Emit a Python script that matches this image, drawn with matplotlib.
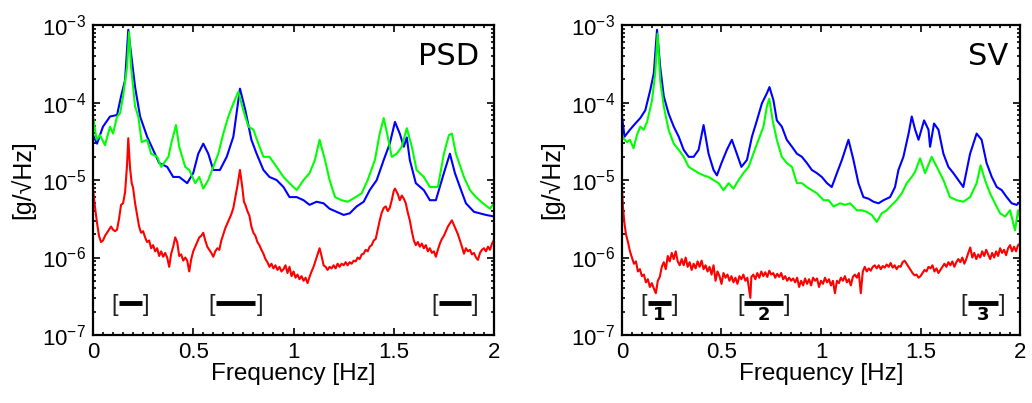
import numpy as np
import matplotlib
matplotlib.use("Agg")
import matplotlib.pyplot as plt
from matplotlib.ticker import MultipleLocator, LogLocator, NullFormatter

plt.rcParams["font.family"] = ["Liberation Sans", "DejaVu Sans"]
plt.rcParams["mathtext.fontset"] = "custom"
plt.rcParams["mathtext.rm"] = "Liberation Sans"
plt.rcParams["mathtext.it"] = "Liberation Sans:italic"
plt.rcParams["mathtext.bf"] = "Liberation Sans:bold"

# ====== data: (frequency Hz, log10 amplitude g/sqrt(Hz)) ======
psd_blue = [(0, -4.42), (0.02, -4.53), (0.05, -4.31), (0.085, -4.18), (0.12, -4.16), (0.14, -3.92),
            (0.16, -3.71), (0.176, -3.06), (0.19, -3.37), (0.21, -3.80), (0.235, -4.18), (0.27, -4.44),
            (0.30, -4.61), (0.33, -4.78), (0.37, -4.83), (0.40, -4.96), (0.43, -4.96), (0.47, -5.04),
            (0.50, -4.91), (0.525, -4.66), (0.55, -4.53), (0.575, -4.66), (0.60, -4.87), (0.633, -4.87),
            (0.667, -4.70), (0.70, -4.44), (0.733, -3.82), (0.76, -4.10), (0.79, -4.48), (0.816, -4.66),
            (0.85, -4.87), (0.88, -4.96), (0.916, -5.00), (0.95, -5.09), (0.98, -5.22), (1.016, -5.22),
            (1.05, -5.26), (1.08, -5.32), (1.115, -5.28), (1.15, -5.30), (1.18, -5.37), (1.215, -5.41),
            (1.25, -5.45), (1.28, -5.43), (1.315, -5.34), (1.35, -5.28), (1.38, -5.13), (1.415, -5.00),
            (1.45, -4.74), (1.48, -4.53), (1.506, -4.25), (1.53, -4.40), (1.55, -4.57), (1.565, -4.45),
            (1.58, -4.74), (1.61, -5.04), (1.65, -5.13), (1.68, -5.26), (1.71, -5.26), (1.75, -4.91),
            (1.78, -4.66), (1.805, -4.91), (1.83, -5.09), (1.86, -5.30), (1.90, -5.41), (1.93, -5.43),
            (1.96, -5.45), (2.0, -5.47)]

psd_green = [(0, -4.18), (0.018, -4.48), (0.035, -4.42), (0.06, -4.55), (0.085, -4.31), (0.10, -4.40),
             (0.12, -4.18), (0.135, -4.14), (0.15, -3.92), (0.17, -3.54), (0.18, -3.09), (0.19, -3.54),
             (0.21, -4.05), (0.226, -4.18), (0.243, -4.51), (0.27, -4.48), (0.29, -4.66), (0.32, -4.70),
             (0.34, -4.83), (0.376, -4.70), (0.39, -4.53), (0.414, -4.29), (0.43, -4.57), (0.46, -4.83),
             (0.48, -4.87), (0.51, -5.04), (0.53, -4.96), (0.55, -5.11), (0.575, -5.00), (0.60, -4.83),
             (0.625, -4.66), (0.65, -4.40), (0.675, -4.18), (0.70, -4.01), (0.725, -3.86), (0.75, -4.10),
             (0.775, -4.31), (0.80, -4.35), (0.825, -4.53), (0.85, -4.70), (0.88, -4.70), (0.916, -4.83),
             (0.95, -4.96), (0.98, -5.04), (1.016, -5.13), (1.05, -5.00), (1.08, -4.91), (1.107, -4.74),
             (1.13, -4.48), (1.157, -4.74), (1.18, -5.00), (1.207, -5.22), (1.24, -5.26), (1.27, -5.28),
             (1.31, -5.22), (1.34, -5.17), (1.37, -5.00), (1.406, -4.74), (1.43, -4.40), (1.45, -4.20),
             (1.47, -4.44), (1.49, -4.70), (1.515, -4.66), (1.54, -4.57), (1.565, -4.33), (1.59, -4.57),
             (1.614, -4.87), (1.65, -4.96), (1.68, -5.09), (1.72, -5.09), (1.75, -4.66), (1.775, -4.42),
             (1.79, -4.40), (1.81, -4.66), (1.85, -4.96), (1.88, -5.13), (1.91, -5.22), (1.945, -5.30),
             (1.98, -5.37), (2.0, -5.30)]

psd_red = [(0, -5.11), (0.01, -5.35), (0.02, -5.55), (0.03, -5.72), (0.04, -5.80), (0.05, -5.78),
           (0.06, -5.72), (0.07, -5.68), (0.08, -5.64), (0.09, -5.60), (0.10, -5.64), (0.11, -5.66),
           (0.12, -5.64), (0.13, -5.50), (0.14, -5.32), (0.15, -5.30), (0.16, -5.16), (0.17, -4.80),
           (0.176, -4.46), (0.185, -4.85), (0.193, -5.04), (0.20, -5.10), (0.21, -5.30), (0.22, -5.45),
           (0.23, -5.60), (0.24, -5.68), (0.25, -5.66), (0.26, -5.74), (0.27, -5.80), (0.28, -5.78),
           (0.29, -5.88), (0.30, -5.84), (0.31, -5.92), (0.32, -5.88), (0.33, -5.98), (0.34, -5.92),
           (0.35, -5.99), (0.36, -5.94), (0.37, -6.00), (0.38, -6.12), (0.39, -5.95), (0.40, -5.86),
           (0.41, -5.74), (0.42, -5.80), (0.43, -5.98), (0.44, -5.96), (0.45, -6.04), (0.46, -6.00),
           (0.47, -6.04), (0.48, -6.18), (0.49, -6.02), (0.50, -5.92), (0.51, -5.86), (0.52, -5.80),
           (0.53, -5.74), (0.54, -5.72), (0.55, -5.68), (0.56, -5.78), (0.57, -5.86), (0.58, -5.90),
           (0.59, -5.94), (0.60, -5.99), (0.61, -5.92), (0.62, -5.88), (0.63, -5.90), (0.64, -5.78),
           (0.65, -5.70), (0.66, -5.62), (0.67, -5.56), (0.68, -5.50), (0.69, -5.44), (0.70, -5.36),
           (0.71, -5.22), (0.72, -5.08), (0.733, -4.87), (0.745, -5.10), (0.753, -5.28), (0.76, -5.32),
           (0.77, -5.40), (0.78, -5.46), (0.79, -5.60), (0.80, -5.68), (0.81, -5.72), (0.82, -5.80),
           (0.83, -5.84), (0.84, -5.90), (0.85, -5.95), (0.86, -6.02), (0.87, -6.06), (0.88, -6.12),
           (0.89, -6.08), (0.90, -6.14), (0.91, -6.10), (0.92, -6.16), (0.93, -6.12), (0.94, -6.18),
           (0.95, -6.15), (0.96, -6.10), (0.97, -6.20), (0.98, -6.12), (0.99, -6.24), (1.00, -6.18),
           (1.01, -6.26), (1.02, -6.22), (1.03, -6.28), (1.04, -6.24), (1.05, -6.30), (1.06, -6.26),
           (1.07, -6.33), (1.08, -6.25), (1.09, -6.18), (1.10, -6.12), (1.11, -6.04), (1.12, -5.96),
           (1.13, -5.88), (1.14, -5.98), (1.15, -6.10), (1.16, -6.12), (1.17, -6.16), (1.18, -6.12),
           (1.19, -6.14), (1.20, -6.10), (1.21, -6.14), (1.22, -6.08), (1.23, -6.12), (1.24, -6.08),
           (1.25, -6.10), (1.26, -6.06), (1.27, -6.10), (1.28, -6.06), (1.29, -6.08), (1.30, -6.04),
           (1.31, -6.05), (1.32, -6.00), (1.33, -6.02), (1.34, -5.96), (1.35, -5.95), (1.36, -5.90),
           (1.37, -5.92), (1.38, -5.86), (1.39, -5.84), (1.40, -5.78), (1.41, -5.76), (1.42, -5.64),
           (1.43, -5.52), (1.44, -5.42), (1.45, -5.36), (1.46, -5.34), (1.47, -5.40), (1.48, -5.36),
           (1.49, -5.26), (1.50, -5.14), (1.506, -5.11), (1.52, -5.18), (1.53, -5.26), (1.54, -5.20),
           (1.55, -5.24), (1.56, -5.30), (1.57, -5.42), (1.58, -5.52), (1.59, -5.66), (1.60, -5.78),
           (1.61, -5.84), (1.62, -5.80), (1.63, -5.86), (1.64, -5.82), (1.65, -5.88), (1.66, -5.84),
           (1.67, -5.92), (1.68, -5.88), (1.69, -5.94), (1.70, -5.92), (1.71, -5.99), (1.72, -5.90),
           (1.73, -5.82), (1.74, -5.76), (1.75, -5.72), (1.76, -5.66), (1.77, -5.60), (1.78, -5.56),
           (1.79, -5.52), (1.80, -5.58), (1.81, -5.64), (1.82, -5.70), (1.83, -5.78), (1.84, -5.86),
           (1.85, -5.95), (1.86, -5.88), (1.87, -5.92), (1.88, -5.90), (1.89, -5.96), (1.90, -5.94),
           (1.91, -6.00), (1.92, -6.03), (1.93, -5.94), (1.94, -5.90), (1.95, -5.88), (1.96, -5.92),
           (1.97, -5.86), (1.98, -5.90), (1.99, -5.82), (2.00, -5.77)]

sv_blue = [(0, -4.18), (0.013, -4.44), (0.04, -4.35), (0.067, -4.27), (0.092, -4.20), (0.117, -4.10),
           (0.142, -3.84), (0.16, -3.62), (0.176, -3.06), (0.192, -3.54), (0.21, -3.92), (0.234, -4.14),
           (0.26, -4.31), (0.285, -4.44), (0.31, -4.61), (0.335, -4.70), (0.36, -4.70), (0.385, -4.61),
           (0.41, -4.29), (0.435, -4.66), (0.46, -4.87), (0.477, -4.94), (0.50, -4.78), (0.527, -4.61),
           (0.552, -4.48), (0.577, -4.66), (0.60, -4.83), (0.628, -4.74), (0.653, -4.44), (0.678, -4.23),
           (0.703, -4.01), (0.728, -3.88), (0.741, -3.80), (0.761, -3.97), (0.778, -4.23), (0.803, -4.31),
           (0.828, -4.48), (0.854, -4.57), (0.879, -4.66), (0.904, -4.70), (0.929, -4.78), (0.954, -4.87),
           (0.979, -4.91), (1.004, -4.96), (1.03, -5.04), (1.054, -5.09), (1.08, -4.91), (1.105, -4.74),
           (1.138, -4.48), (1.163, -4.74), (1.188, -5.04), (1.213, -5.22), (1.238, -5.24), (1.264, -5.28),
           (1.289, -5.30), (1.314, -5.26), (1.347, -5.22), (1.372, -5.09), (1.389, -4.87), (1.414, -4.70),
           (1.44, -4.40), (1.456, -4.18), (1.473, -4.35), (1.49, -4.48), (1.518, -4.23), (1.54, -4.35),
           (1.548, -4.57), (1.568, -4.27), (1.59, -4.35), (1.615, -4.66), (1.64, -4.83), (1.665, -4.91),
           (1.69, -5.00), (1.715, -5.09), (1.749, -4.66), (1.782, -4.40), (1.807, -4.48), (1.832, -4.78),
           (1.858, -4.96), (1.883, -5.09), (1.908, -5.13), (1.933, -5.22), (1.958, -5.30), (1.983, -5.32),
           (2.0, -5.28)]

sv_green = [(0, -4.44), (0.025, -4.51), (0.04, -4.48), (0.058, -4.59), (0.075, -4.42), (0.092, -4.31),
            (0.109, -4.35), (0.126, -4.25), (0.151, -3.97), (0.167, -3.62), (0.179, -3.11), (0.192, -3.71),
            (0.21, -4.05), (0.234, -4.35), (0.26, -4.53), (0.285, -4.61), (0.31, -4.70), (0.335, -4.83),
            (0.36, -4.87), (0.385, -4.91), (0.41, -4.94), (0.435, -4.96), (0.46, -5.00), (0.485, -5.04),
            (0.51, -5.13), (0.536, -5.04), (0.56, -5.11), (0.586, -5.00), (0.61, -4.91), (0.636, -4.83),
            (0.66, -4.66), (0.686, -4.48), (0.711, -4.31), (0.728, -4.05), (0.74, -3.95), (0.757, -4.23),
            (0.778, -4.48), (0.803, -4.70), (0.828, -4.78), (0.854, -4.83), (0.879, -5.04), (0.904, -5.04),
            (0.929, -5.09), (0.954, -5.13), (0.979, -5.17), (1.013, -5.26), (1.038, -5.26), (1.063, -5.34),
            (1.096, -5.30), (1.121, -5.32), (1.146, -5.30), (1.18, -5.39), (1.205, -5.39), (1.23, -5.41),
            (1.255, -5.45), (1.28, -5.54), (1.305, -5.43), (1.33, -5.39), (1.356, -5.32), (1.38, -5.26),
            (1.406, -5.17), (1.431, -5.04), (1.456, -4.96), (1.473, -4.89), (1.498, -4.72), (1.523, -4.91),
            (1.556, -4.70), (1.582, -4.83), (1.615, -5.00), (1.648, -5.22), (1.682, -5.26), (1.715, -5.28),
            (1.749, -5.22), (1.782, -5.04), (1.802, -4.81), (1.824, -5.00), (1.849, -5.17), (1.874, -5.30),
            (1.90, -5.43), (1.925, -5.47), (1.95, -5.39), (1.975, -5.65), (1.99, -5.39), (2.0, -5.49)]

sv_red = [(0, -5.11), (0.005, -5.35), (0.012, -5.55), (0.02, -5.70), (0.03, -5.80), (0.04, -5.92),
          (0.05, -6.00), (0.06, -6.08), (0.07, -6.05), (0.08, -6.18), (0.09, -6.15), (0.10, -6.24),
          (0.11, -6.22), (0.12, -6.32), (0.13, -6.28), (0.14, -6.38), (0.15, -6.33), (0.16, -6.40),
          (0.17, -6.46), (0.18, -6.30), (0.19, -6.25), (0.20, -6.12), (0.21, -6.06), (0.22, -6.15),
          (0.23, -5.98), (0.24, -6.05), (0.25, -5.94), (0.26, -6.02), (0.27, -5.92), (0.28, -6.05),
          (0.29, -6.10), (0.30, -6.02), (0.31, -6.10), (0.32, -6.00), (0.33, -6.12), (0.34, -6.06),
          (0.35, -6.16), (0.36, -6.08), (0.37, -6.14), (0.38, -6.05), (0.39, -6.12), (0.40, -6.04),
          (0.41, -6.15), (0.42, -6.10), (0.43, -6.18), (0.44, -6.12), (0.45, -6.22), (0.46, -6.10),
          (0.47, -6.30), (0.48, -6.18), (0.49, -6.24), (0.50, -6.34), (0.51, -6.20), (0.52, -6.26),
          (0.53, -6.22), (0.54, -6.30), (0.55, -6.24), (0.56, -6.32), (0.57, -6.26), (0.58, -6.34),
          (0.59, -6.24), (0.60, -6.28), (0.61, -6.22), (0.62, -6.30), (0.63, -6.26), (0.645, -6.52),
          (0.65, -6.25), (0.66, -6.22), (0.67, -6.28), (0.68, -6.20), (0.69, -6.26), (0.70, -6.18),
          (0.71, -6.24), (0.72, -6.19), (0.73, -6.25), (0.74, -6.17), (0.75, -6.22), (0.76, -6.20),
          (0.77, -6.26), (0.78, -6.21), (0.79, -6.25), (0.80, -6.20), (0.81, -6.28), (0.82, -6.24),
          (0.83, -6.30), (0.84, -6.26), (0.85, -6.30), (0.86, -6.27), (0.87, -6.32), (0.88, -6.26),
          (0.89, -6.38), (0.90, -6.30), (0.91, -6.36), (0.92, -6.27), (0.93, -6.34), (0.94, -6.28),
          (0.95, -6.36), (0.96, -6.26), (0.97, -6.30), (0.98, -6.27), (0.99, -6.38), (1.00, -6.30),
          (1.01, -6.34), (1.02, -6.26), (1.03, -6.32), (1.04, -6.28), (1.05, -6.36), (1.06, -6.30),
          (1.07, -6.46), (1.08, -6.30), (1.09, -6.33), (1.10, -6.26), (1.11, -6.30), (1.12, -6.24),
          (1.13, -6.32), (1.14, -6.28), (1.15, -6.36), (1.16, -6.25), (1.17, -6.22), (1.18, -6.26),
          (1.19, -6.20), (1.20, -6.46), (1.21, -6.18), (1.22, -6.12), (1.23, -6.18), (1.24, -6.14),
          (1.25, -6.17), (1.26, -6.12), (1.27, -6.10), (1.28, -6.14), (1.29, -6.10), (1.30, -6.15),
          (1.31, -6.11), (1.32, -6.13), (1.33, -6.09), (1.34, -6.12), (1.35, -6.07), (1.36, -6.13),
          (1.37, -6.10), (1.38, -6.15), (1.39, -6.11), (1.40, -6.12), (1.41, -6.06), (1.42, -6.04),
          (1.43, -6.08), (1.44, -6.12), (1.45, -6.16), (1.46, -6.20), (1.47, -6.23), (1.48, -6.22),
          (1.49, -6.26), (1.50, -6.24), (1.51, -6.20), (1.52, -6.16), (1.53, -6.18), (1.54, -6.12),
          (1.55, -6.14), (1.56, -6.10), (1.57, -6.18), (1.58, -6.14), (1.59, -6.20), (1.60, -6.16),
          (1.61, -6.12), (1.62, -6.08), (1.63, -6.12), (1.64, -6.06), (1.65, -6.10), (1.66, -6.05),
          (1.67, -6.12), (1.68, -6.06), (1.69, -6.02), (1.70, -6.06), (1.71, -6.00), (1.72, -6.08),
          (1.73, -6.02), (1.74, -5.94), (1.75, -5.87), (1.76, -6.00), (1.77, -5.94), (1.78, -6.02),
          (1.79, -5.96), (1.80, -6.00), (1.81, -5.92), (1.82, -5.98), (1.83, -5.90), (1.84, -5.96),
          (1.85, -6.02), (1.86, -5.94), (1.87, -6.00), (1.88, -5.92), (1.89, -5.98), (1.90, -5.88),
          (1.91, -5.94), (1.92, -5.90), (1.93, -5.97), (1.94, -5.88), (1.95, -5.84), (1.96, -5.92),
          (1.97, -5.86), (1.98, -5.92), (1.99, -5.84), (2.00, -5.82)]

# frequency bands marked under the curves
psd_band_lo = [0.13, 0.613, 1.725]
psd_band_hi = [0.245, 0.81, 1.885]
sv_band_lo = [0.13, 0.615, 1.74]
sv_band_hi = [0.245, 0.81, 1.89]
sv_band_labels = ["1", "2", "3"]
band_level = 2.6e-7

xticks = [0, 0.5, 1, 1.5, 2]
xtick_labels = ["0", "0.5", "1", "1.5", "2"]


def draw_curve(ax, pts, color):
    f = [p[0] for p in pts]
    v = [10 ** p[1] for p in pts]
    ax.plot(f, v, color=color, lw=1.5)


def style_axes(ax):
    ax.set_yscale("log")
    ax.set_xlim(0, 2)
    ax.set_ylim(1e-7, 1e-3)
    ax.set_xticks(xticks)
    ax.set_xticklabels(xtick_labels)
    ax.xaxis.set_minor_locator(MultipleLocator(0.05))
    ax.yaxis.set_minor_locator(LogLocator(base=10, subs=np.arange(2, 10)))
    ax.yaxis.set_minor_formatter(NullFormatter())
    ax.tick_params(which="both", direction="in", top=True, right=True, labelsize=16, width=1.2)
    ax.tick_params(which="major", length=5, pad=5)
    ax.tick_params(which="minor", length=2.5)
    for s in ax.spines.values():
        s.set_linewidth(1.6)
    ax.set_xlabel("Frequency [Hz]", fontsize=17.5, labelpad=0)
    ax.set_ylabel("[g/\u221aHz]", fontsize=18, labelpad=5)


def draw_bands(ax, lo, hi, labels=None):
    for i in range(len(lo)):
        ax.hlines(band_level, lo[i], hi[i], color="black", lw=3.5)
        ax.text(lo[i] - 0.005, band_level * 0.93, "[", ha="right", va="center", fontsize=17,
                color="#222222")
        ax.text(hi[i] + 0.005, band_level * 0.93, "]", ha="left", va="center", fontsize=17,
                color="#222222")
        if labels:
            ax.text((lo[i] + hi[i]) / 2, band_level * 0.9, labels[i], ha="center", va="top",
                    fontsize=13, fontweight="bold", family="DejaVu Sans")


fig = plt.figure(figsize=(10.32, 4.03), dpi=100)
ax1 = fig.add_axes([0.0901, 0.1687, 0.3886, 0.769])
ax2 = fig.add_axes([0.6027, 0.1687, 0.3857, 0.769])

# ====== PSD ======
draw_curve(ax1, psd_blue, "#0000ff")
draw_curve(ax1, psd_green, "#00ff00")
draw_curve(ax1, psd_red, "#ff0000")
style_axes(ax1)
draw_bands(ax1, psd_band_lo, psd_band_hi)
ax1.text(0.963, 0.871, "PSD", transform=ax1.transAxes, ha="right", va="baseline",
         fontsize=22, family="DejaVu Sans")

# ====== SV ======
draw_curve(ax2, sv_blue, "#0000ff")
draw_curve(ax2, sv_green, "#00ff00")
draw_curve(ax2, sv_red, "#ff0000")
style_axes(ax2)
draw_bands(ax2, sv_band_lo, sv_band_hi, sv_band_labels)
ax2.text(0.97, 0.871, "SV", transform=ax2.transAxes, ha="right", va="baseline",
         fontsize=22, family="DejaVu Sans")

fig.savefig("out.png", dpi=100)
